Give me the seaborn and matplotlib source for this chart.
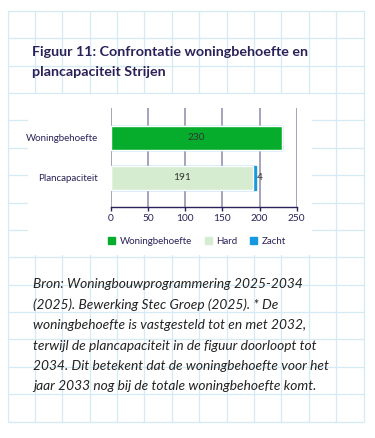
import numpy as np
import pandas as pd
import matplotlib.pyplot as plt
import seaborn as sns
from matplotlib.patches import Patch, Rectangle

# data
categories = ["Woningbehoefte", "Plancapaciteit"]
behoefte = [230, 0]
hard = [0, 191]
zacht = [0, 4]

title = "Figuur 11: Confrontatie woningbehoefte en\nplancapaciteit Strijen"
caption = ("Bron: Woningbouwprogrammering 2025-2034\n"
           "(2025). Bewerking Stec Groep (2025). * De\n"
           "woningbehoefte is vastgesteld tot en met 2032,\n"
           "terwijl de plancapaciteit in de figuur doorloopt tot\n"
           "2034. Dit betekent dat de woningbehoefte voor het\n"
           "jaar 2033 nog bij de totale woningbehoefte komt.")

green = "#06ad2d"
light = "#d5ecd0"
blue = "#1598de"
purple = "#2b2158"
gridc = "#8f88ab"

sns.set_theme(style="white")
plt.rcParams['font.family'] = ['Lato', 'DejaVu Sans']

fig = plt.figure(figsize=(3.75, 4.38), dpi=100)
fig.patch.set_facecolor("white")

# squared paper background
bg = fig.add_axes([0, 0, 1, 1], zorder=-1)
bg.set_xlim(0, 375)
bg.set_ylim(438, 0)
bg.axis("off")
xs = np.linspace(7.5, 363.5, 14)
ys = np.linspace(11, 421.5, 16)
bg.vlines(xs, 11, 421.5, color="#d6eaf5", lw=0.9)
bg.hlines(ys, 7.5, 363.5, color="#d6eaf5", lw=0.9)
bg.add_patch(Rectangle((28, 94), 284, 161, facecolor="white", edgecolor="none", zorder=3))

fig.text(32/375, 1 - 46/438, title, ha="left", va="top", fontsize=10.3, fontweight="bold",
         color=purple, linespacing=1.8)

# chart
ax = fig.add_axes([110.7/375, 1 - 206.7/438, 186/375, 98.7/438])
ax.set_facecolor("none")
df = pd.DataFrame({"cat": categories, "b": behoefte, "h": hard, "z": zacht})
df["tot"] = df["b"] + df["h"] + df["z"]
df["bh"] = df["b"] + df["h"]

sns.barplot(data=df, y="cat", x="tot", color=blue, width=0.6, ax=ax, saturation=1, zorder=3,
            edgecolor=blue, linewidth=1)
sns.barplot(data=df, y="cat", x="bh", color=light, width=0.6, ax=ax, saturation=1, zorder=3)
sns.barplot(data=df, y="cat", x="b", color=green, width=0.6, ax=ax, saturation=1, zorder=3)

ax.bar_label(ax.containers[2], labels=[str(v) if v else "" for v in behoefte],
             label_type="center", fontsize=7.3, color="#333333")
ax.bar_label(ax.containers[1], labels=[str(v) if v else "" for v in hard],
             label_type="center", fontsize=7.3, color="#333333")
ax.bar_label(ax.containers[0], labels=[str(v) if v else "" for v in zacht],
             label_type="edge", padding=0.5, fontsize=7.3, color="#333333")

ax.set_xlim(0, 250)
ax.set_ylim(1.72, -0.74)
ax.set_xticks([0, 50, 100, 150, 200, 250])
ax.xaxis.grid(True, color=gridc, lw=1.1)
ax.set_axisbelow(True)
for s in ["top", "right", "left"]:
    ax.spines[s].set_visible(False)
ax.spines["bottom"].set_color(purple)
ax.spines["bottom"].set_linewidth(1)
ax.tick_params(axis="x", length=3, width=1, color=purple, labelsize=7.3, labelcolor=purple, pad=2, bottom=True)
ax.tick_params(axis="y", length=0, labelsize=7, labelcolor=purple, pad=9)
ax.set_xlabel("")
ax.set_ylabel("")

handles = [Patch(color=green, label="Woningbehoefte"), Patch(color=light, label="Hard"),
           Patch(color=blue, label="Zacht")]
fig.legend(handles=handles, loc="center", bbox_to_anchor=(197/375, 1 - 241/438), ncol=3,
           frameon=False, fontsize=7, labelcolor=purple, handlelength=0.75, handleheight=0.75,
           handletextpad=0.45, columnspacing=1.3)

fig.text(33/375, 1 - 278/438, caption, ha="left", va="top", fontsize=9.9, style="italic",
         color="#222222", linespacing=1.82)

plt.savefig("out.png", dpi=100)
